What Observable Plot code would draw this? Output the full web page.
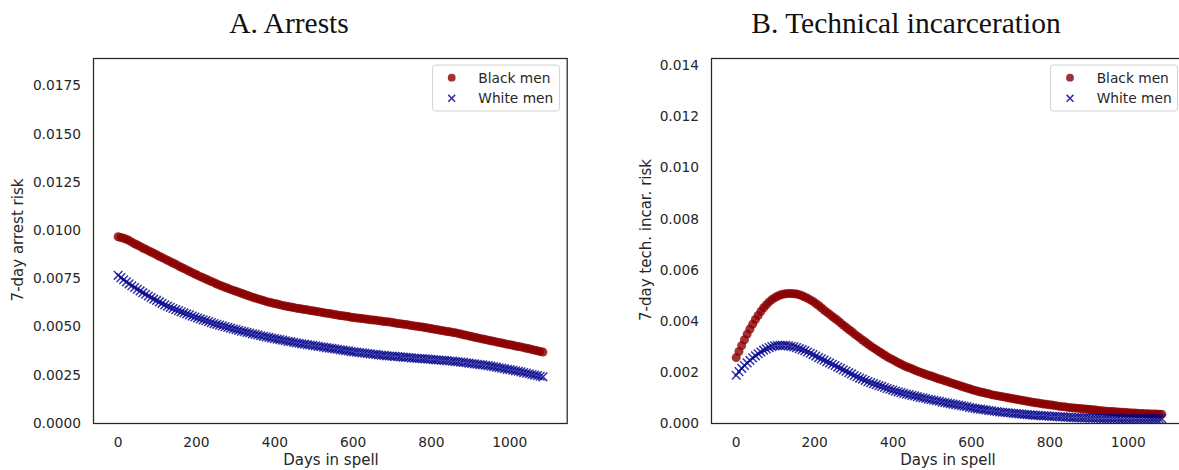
<!DOCTYPE html>
<html>
<head>
<meta charset="utf-8">
<script src="https://cdn.jsdelivr.net/npm/d3@7"></script>
<script src="https://cdn.jsdelivr.net/npm/@observablehq/plot@0.6"></script>
<style>
  html, body { margin: 0; padding: 0; background: #fff; }
  #fig { position: relative; width: 1179px; height: 470px; overflow: hidden; }
  .panel { position: absolute; top: 0; }
  #overlay { position: absolute; left: 0; top: 0; pointer-events: none; }
</style>
</head>
<body>
<div id="fig"></div>
<script>
// ---------------- data ----------------
const days = [0,7,14,21,28,35,42,49,56,63,70,77,84,91,98,105,112,119,126,133,140,147,154,161,168,175,182,189,196,203,210,217,224,231,238,245,252,259,266,273,280,287,294,301,308,315,322,329,336,343,350,357,364,371,378,385,392,399,406,413,420,427,434,441,448,455,462,469,476,483,490,497,504,511,518,525,532,539,546,553,560,567,574,581,588,595,602,609,616,623,630,637,644,651,658,665,672,679,686,693,700,707,714,721,728,735,742,749,756,763,770,777,784,791,798,805,812,819,826,833,840,847,854,861,868,875,882,889,896,903,910,917,924,931,938,945,952,959,966,973,980,987,994,1001,1008,1015,1022,1029,1036,1043,1050,1057,1064,1071,1078,1085];

// Panel A: 7-day arrest risk
const arrestBlack = [.00968,.00964,.00960,.00955,.00948,.00940,.00932,.00925,.00918,.00910,.00903,.00896,.00889,.00882,.00875,.00867,.00860,.00853,.00846,.00839,.00832,.00825,.00817,.00810,.00803,.00796,.00789,.00782,.00775,.00768,.00761,.00755,.00749,.00742,.00736,.00730,.00723,.00717,.00712,.00706,.00701,.00695,.00690,.00685,.00680,.00675,.00670,.00665,.00659,.00655,.00650,.00646,.00642,.00637,.00633,.00629,.00626,.00622,.00619,.00615,.00612,.00609,.00606,.00604,.00601,.00598,.00596,.00593,.00591,.00589,.00586,.00584,.00582,.00579,.00577,.00574,.00572,.00570,.00567,.00565,.00562,.00560,.00558,.00556,.00554,.00551,.00549,.00547,.00546,.00544,.00542,.00540,.00538,.00537,.00535,.00533,.00531,.00529,.00528,.00526,.00524,.00521,.00519,.00517,.00515,.00513,.00511,.00508,.00506,.00504,.00502,.00500,.00497,.00495,.00492,.00490,.00487,.00485,.00482,.00480,.00477,.00475,.00472,.00470,.00467,.00464,.00460,.00457,.00454,.00451,.00447,.00444,.00441,.00438,.00435,.00432,.00429,.00426,.00423,.00420,.00417,.00414,.00411,.00408,.00405,.00402,.00399,.00397,.00393,.00390,.00387,.00383,.00380,.00377,.00373,.00370];
const arrestWhite = [.00768,.00756,.00745,.00734,.00724,.00714,.00705,.00696,.00687,.00678,.00670,.00661,.00653,.00645,.00638,.00630,.00623,.00615,.00608,.00602,.00596,.00590,.00585,.00579,.00573,.00568,.00563,.00557,.00552,.00547,.00542,.00537,.00533,.00528,.00523,.00518,.00514,.00510,.00506,.00502,.00498,.00494,.00490,.00487,.00483,.00479,.00476,.00472,.00469,.00465,.00462,.00459,.00455,.00452,.00449,.00446,.00443,.00440,.00437,.00435,.00432,.00429,.00426,.00424,.00421,.00418,.00416,.00413,.00411,.00409,.00407,.00405,.00403,.00400,.00398,.00396,.00393,.00391,.00389,.00387,.00385,.00382,.00380,.00378,.00376,.00373,.00371,.00370,.00368,.00366,.00365,.00363,.00361,.00359,.00358,.00356,.00354,.00353,.00351,.00350,.00349,.00348,.00347,.00345,.00344,.00343,.00342,.00340,.00339,.00338,.00337,.00336,.00335,.00334,.00333,.00331,.00330,.00329,.00328,.00327,.00326,.00324,.00323,.00321,.00320,.00318,.00317,.00315,.00313,.00311,.00309,.00307,.00305,.00304,.00302,.00300,.00297,.00295,.00292,.00289,.00287,.00284,.00281,.00279,.00276,.00273,.00271,.00268,.00264,.00261,.00258,.00254,.00251,.00248,.00245,.00242];

// Panel B: 7-day technical incarceration risk
const techBlack = [.00258,.00282,.00305,.00328,.00350,.00370,.00389,.00407,.00423,.00439,.00453,.00465,.00476,.00485,.00492,.00498,.00503,.00506,.00508,.00509,.00509,.00508,.00507,.00504,.00500,.00495,.00490,.00484,.00478,.00470,.00462,.00453,.00444,.00436,.00428,.00419,.00411,.00403,.00394,.00385,.00377,.00368,.00360,.00351,.00343,.00335,.00327,.00319,.00311,.00303,.00296,.00289,.00282,.00275,.00268,.00261,.00255,.00250,.00244,.00238,.00233,.00227,.00222,.00218,.00214,.00209,.00205,.00201,.00197,.00193,.00189,.00186,.00182,.00178,.00174,.00171,.00167,.00164,.00160,.00157,.00153,.00150,.00146,.00143,.00139,.00136,.00132,.00129,.00126,.00123,.00121,.00118,.00116,.00113,.00111,.00109,.00107,.00105,.00103,.00101,.00099,.00097,.00095,.00093,.00091,.00089,.00087,.00085,.00083,.00081,.00080,.00078,.00076,.00075,.00073,.00072,.00070,.00069,.00067,.00066,.00065,.00063,.00062,.00061,.00060,.00059,.00058,.00057,.00056,.00055,.00054,.00053,.00051,.00050,.00049,.00048,.00047,.00047,.00046,.00045,.00044,.00044,.00043,.00042,.00041,.00041,.00040,.00039,.00039,.00038,.00038,.00037,.00037,.00037,.00036,.00036];
const techWhite = [.00189,.00203,.00216,.00227,.00237,.00247,.00257,.00265,.00273,.00280,.00287,.00292,.00297,.00301,.00304,.00305,.00306,.00306,.00306,.00304,.00302,.00300,.00297,.00293,.00289,.00285,.00280,.00275,.00270,.00264,.00258,.00253,.00248,.00242,.00237,.00232,.00227,.00221,.00216,.00210,.00205,.00199,.00194,.00188,.00183,.00178,.00174,.00169,.00164,.00160,.00156,.00152,.00148,.00145,.00141,.00137,.00134,.00131,.00127,.00124,.00121,.00118,.00115,.00113,.00110,.00108,.00105,.00102,.00100,.00098,.00095,.00093,.00091,.00089,.00087,.00084,.00082,.00080,.00078,.00076,.00074,.00072,.00070,.00068,.00066,.00063,.00061,.00059,.00057,.00056,.00054,.00053,.00051,.00050,.00048,.00047,.00045,.00044,.00043,.00042,.00041,.00040,.00039,.00038,.00037,.00036,.00035,.00034,.00033,.00032,.00032,.00031,.00030,.00030,.00029,.00028,.00028,.00027,.00026,.00026,.00025,.00025,.00024,.00023,.00023,.00023,.00022,.00022,.00022,.00021,.00021,.00021,.00021,.00020,.00020,.00020,.00020,.00020,.00020,.00020,.00019,.00019,.00019,.00019,.00019,.00019,.00019,.00019,.00019,.00019,.00019,.00019,.00019,.00019,.00019,.00019];

const xTicks = [0, 200, 400, 600, 800, 1000];
const arrestTicks = [0, 0.0025, 0.005, 0.0075, 0.01, 0.0125, 0.015, 0.0175];
const techTicks = [0, 0.002, 0.004, 0.006, 0.008, 0.01, 0.012, 0.014];
const seriesNames = ["Black men", "White men"];
const titles = ["A. Arrests", "B. Technical incarceration"];
const yLabels = ["7-day arrest risk", "7-day tech. incar. risk"];
const xLabel = "Days in spell";

// ---------------- drawing ----------------
const RED = "#8b0000", BLUE = "#00008b", INK = "#262626";
const fig = document.getElementById("fig");

function rows(ys) {
  const n = Math.min(days.length, ys.length);
  const out = [];
  for (let i = 0; i < n; i++) out.push({d: days[i], v: ys[i]});
  return out;
}

function panel({left, width, ml, mr, yDomain, yTicks, yFmt, black, white}) {
  const svg = Plot.plot({
    width, height: 470,
    marginLeft: ml, marginRight: mr, marginTop: 58, marginBottom: 47,
    x: {domain: [-63, 1147]},
    y: {domain: yDomain},
    style: {fontFamily: "DejaVu Sans", fontSize: "13.75px", color: INK, background: "transparent", overflow: "visible"},
    marks: [
      Plot.axisY({ticks: yTicks, tickFormat: d3.format(yFmt), tickSize: 0, tickPadding: 12.5, label: null}),
      Plot.axisX({ticks: xTicks, tickFormat: d => String(d), tickSize: 0, tickPadding: 13.5, label: null}),
      Plot.dot(rows(black), {x: "d", y: "v", r: 4.5, fill: RED, fillOpacity: 0.8}),
      Plot.dot(rows(white), {x: "d", y: "v", r: 4, symbol: "times", stroke: BLUE, strokeOpacity: 0.8, strokeWidth: 1.5}),
      Plot.frame({stroke: INK, strokeWidth: 1.25})
    ]
  });
  svg.classList.add("panel");
  svg.style.left = left + "px";
  fig.appendChild(svg);
}

panel({left: 0, width: 590, ml: 93, mr: 23.3, yDomain: [0, 0.01892], yTicks: arrestTicks, yFmt: ".4f", black: arrestBlack, white: arrestWhite});
panel({left: 590, width: 600, ml: 121, mr: 4.5, yDomain: [0, 0.01429], yTicks: techTicks, yFmt: ".3f", black: techBlack, white: techWhite});

// overlay: titles, axis labels, legends
function legend(x0, markX, textX) {
  return `
  <rect x="${x0}" y="65" width="127" height="46" rx="3" ry="3" fill="rgba(255,255,255,0.8)" stroke="#d4d4d4" stroke-width="1"/>
  <circle cx="${markX}" cy="77.7" r="3.9" fill="${RED}" fill-opacity="0.8"/>
  <path d="M${markX-3.4},${98.3-3.4}L${markX+3.4},${98.3+3.4}M${markX-3.4},${98.3+3.4}L${markX+3.4},${98.3-3.4}" stroke="${BLUE}" stroke-opacity="0.8" stroke-width="1.6" fill="none"/>
  <text x="${textX}" y="82.7" font-family="DejaVu Sans" font-size="13.75" fill="${INK}">${seriesNames[0]}</text>
  <text x="${textX}" y="103.3" font-family="DejaVu Sans" font-size="13.75" fill="${INK}">${seriesNames[1]}</text>`;
}

const ns = "http://www.w3.org/2000/svg";
const ov = document.createElementNS(ns, "svg");
ov.setAttribute("id", "overlay");
ov.setAttribute("width", 1179);
ov.setAttribute("height", 470);
ov.innerHTML = `
  <text x="289" y="33" text-anchor="middle" font-family="Liberation Serif" font-size="29.5" fill="#111">${titles[0]}</text>
  <text x="906" y="33" text-anchor="middle" font-family="Liberation Serif" font-size="29.5" fill="#111">${titles[1]}</text>
  <text transform="translate(22.5,240) rotate(-90)" text-anchor="middle" font-family="DejaVu Sans" font-size="15" fill="${INK}">${yLabels[0]}</text>
  <text transform="translate(651,240) rotate(-90)" text-anchor="middle" font-family="DejaVu Sans" font-size="15" fill="${INK}">${yLabels[1]}</text>
  <text x="331" y="465" text-anchor="middle" font-family="DejaVu Sans" font-size="15" fill="${INK}">${xLabel}</text>
  <text x="948" y="465" text-anchor="middle" font-family="DejaVu Sans" font-size="15" fill="${INK}">${xLabel}</text>
  ${legend(432.5, 451.7, 478.3)}
  ${legend(1050.5, 1070, 1096.7)}
`;
fig.appendChild(ov);
</script>
</body>
</html>
